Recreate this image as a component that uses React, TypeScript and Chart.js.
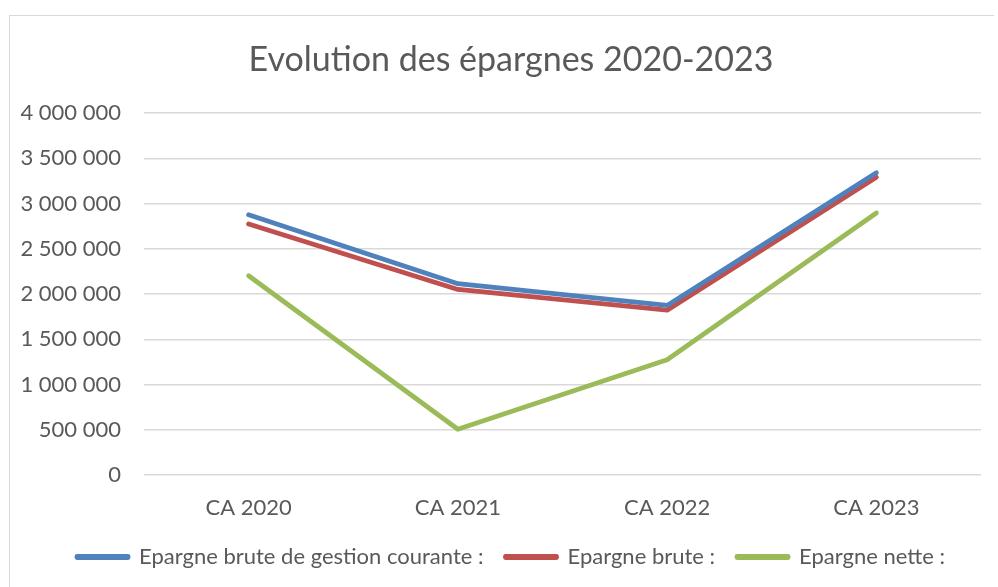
import React, { useEffect, useRef } from "react";
import { Chart, registerables } from "chart.js";

Chart.register(...registerables);

const categories = ["CA 2020", "CA 2021", "CA 2022", "CA 2023"];
const epargneGestion = [2876000, 2114000, 1874000, 3340000];
const epargneBrute = [2773000, 2050000, 1822000, 3290000];
const epargneNette = [2202000, 505000, 1274000, 2895000];
const seriesNames = [
  "Epargne brute de gestion courante :",
  "Epargne brute :",
  "Epargne nette :",
];
const seriesColors = ["#4F81BD", "#C0504D", "#9BBB59"];
const titleText = "Evolution des épargnes 2020-2023";

const FONT = "Lato, 'Open Sans', sans-serif";
const TEXT = "#595959";

function formatFr(v: number): string {
  return String(Math.round(v)).replace(/\B(?=(\d{3})+(?!\d))/g, " ");
}

export default function App() {
  const ref = useRef<HTMLCanvasElement | null>(null);
  useEffect(() => {
    if (!ref.current) return;
    const data = [epargneGestion, epargneBrute, epargneNette];
    const chart = new Chart(ref.current, {
      type: "line",
      data: {
        labels: categories,
        datasets: data.map((d, i) => ({
          label: seriesNames[i],
          data: d,
          borderColor: seriesColors[i],
          backgroundColor: seriesColors[i],
          borderWidth: 4.8,
          borderCapStyle: "round" as const,
          borderJoinStyle: "round" as const,
          pointRadius: 0,
          pointHoverRadius: 0,
          tension: 0,
          fill: false,
        })),
      },
      options: {
        animation: false,
        responsive: true,
        maintainAspectRatio: false,
        layout: { padding: { left: 31, right: 13, top: 0, bottom: 9 } },
        plugins: {
          tooltip: { enabled: false },
          title: {
            display: true,
            text: titleText,
            color: TEXT,
            font: { family: FONT, size: 34, weight: "normal" },
            padding: { top: 23.6, bottom: 32.6 },
          },
          legend: {
            position: "bottom",
            labels: {
              color: TEXT,
              font: { family: FONT, size: 22 },
              boxWidth: 51,
              boxHeight: 1,
              padding: 22,
            },
          },
        },
        scales: {
          x: {
            offset: true,
            grid: { display: false, drawTicks: false },
            border: { display: false },
            afterFit: (scale: any) => {
              scale.height = 49;
            },
            ticks: {
              color: TEXT,
              font: { family: FONT, size: 22 },
              padding: 20,
              maxRotation: 0,
            },
          },
          y: {
            min: 0,
            max: 4000000,
            grid: { color: "#d9d9d9", lineWidth: 1.5, drawTicks: false },
            border: { display: false },
            afterFit: (scale: any) => {
              scale.width = 103;
              scale._computeLabelArea = () => undefined;
            },
            ticks: {
              stepSize: 500000,
              color: TEXT,
              font: { family: FONT, size: 22 },
              padding: 23,
              callback: (v: any) => formatFr(Number(v)),
            },
          },
        },
      },
    });
    return () => chart.destroy();
  }, []);

  return (
    <div
      style={{
        position: "absolute",
        left: 9,
        top: 15,
        width: 985,
        height: 572,
        borderLeft: "1px solid #d9d9d9",
        borderTop: "1px solid #d9d9d9",
        boxSizing: "border-box",
        background: "#fff",
      }}
    >
      <div style={{ position: "absolute", left: 0, top: 0, width: 984, height: 571 }}>
        <canvas ref={ref} />
      </div>
    </div>
  );
}
